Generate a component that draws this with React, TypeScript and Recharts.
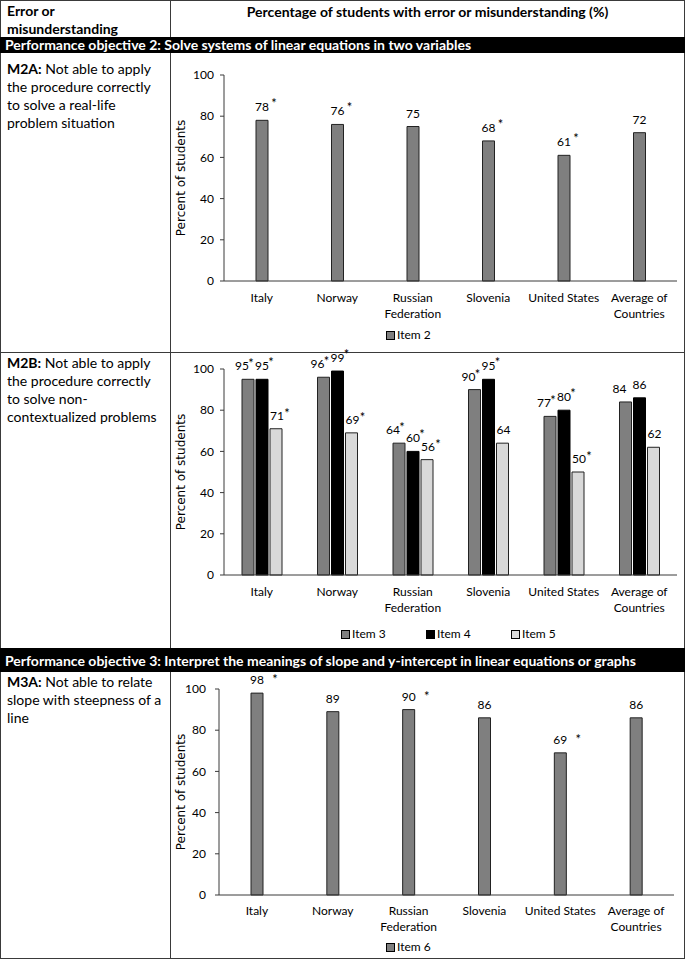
import React from 'react';
import { BarChart, Bar, XAxis, YAxis, LabelList } from 'recharts';

// countries on the x axis ('\n' = line break in tick label)
const countries = ['Italy', 'Norway', 'Russian\nFederation', 'Slovenia', 'United States', 'Average of\nCountries'];
const yTicks = [0, 20, 40, 60, 80, 100];

// M2A
const item2 = [78, 76, 75, 68, 61, 72];
const item2Star = [true, true, false, true, true, false];

// M2B
const item3 = [95, 96, 64, 90, 77, 84];
const item3Star = [true, true, true, true, true, false];
const item4 = [95, 99, 60, 95, 80, 86];
const item4Star = [true, true, true, true, true, false];
const item5 = [71, 69, 56, 64, 50, 62];
const item5Star = [true, true, true, false, true, false];

// M3A
const item6 = [98, 89, 90, 86, 69, 86];
const item6Star = [true, false, true, false, true, false];

const lbl = (v: number, s: boolean) => String(v) + (s ? '*' : '');

const dataA = countries.map((c, i) => ({ country: c, item2: item2[i], item2L: lbl(item2[i], item2Star[i]) }));
const dataB = countries.map((c, i) => ({
  country: c,
  item3: item3[i], item3L: lbl(item3[i], item3Star[i]),
  item4: item4[i], item4L: lbl(item4[i], item4Star[i]),
  item5: item5[i], item5L: lbl(item5[i], item5Star[i]),
}));
const dataC = countries.map((c, i) => ({ country: c, item6: item6[i], item6L: lbl(item6[i], item6Star[i]) }));

const FONT = 'Lato, "Open Sans", sans-serif';
const GRAY = '#7f7f7f';
const LIGHT = '#d9d9d9';
const LINE = '#3a3a3a';

const ValueLabel = (props: any) => {
  const vb = props.viewBox || {};
  const x = props.x ?? vb.x;
  const y = props.y ?? vb.y;
  const width = props.width ?? vb.width;
  const s = String(props.value);
  const star = s.endsWith('*');
  const num = star ? s.slice(0, -1) : s;
  const cx = x + width / 2 + (props.shiftX || 0);
  const by = y - 9;
  return (
    <g>
      <text x={cx} y={by} textAnchor="middle" fontSize={12} fontFamily={FONT} fill="#000">{num}</text>
      {star && (
        <text x={cx + (props.starX || 10)} y={by + (props.starY || 0)} textAnchor="middle" fontSize={13} fontFamily={FONT} fill="#000">*</text>
      )}
    </g>
  );
};

const CatTick = (props: any) => {
  const { x, y, payload } = props;
  const lines = String(payload.value).split('\n');
  return (
    <g>
      {lines.map((l, i) => (
        <text key={i} x={x} y={y + (props.top || 22) + i * 16} textAnchor="middle" fontSize={12} fontFamily={FONT} fill="#000">{l}</text>
      ))}
    </g>
  );
};

const YTitle = (props: any) => {
  const vb = props.viewBox || {};
  const cy = vb.y + vb.height / 2;
  const cx = 10;
  return (
    <text x={cx} y={cy} transform={`rotate(-90, ${cx}, ${cy})`} textAnchor="middle" dominantBaseline="central"
      fontSize={12} fontFamily='"DejaVu Sans", Verdana, sans-serif' fill="#000">Percent of students</text>
  );
};

const LegendItem = ({ left, top, color, text }: any) => (
  <div style={{ position: 'absolute', left, top, display: 'flex', alignItems: 'center', fontSize: 12, fontFamily: FONT, lineHeight: '14px' }}>
    <span style={{ display: 'inline-block', width: 7, height: 7, background: color, border: '1px solid #000', marginRight: 2 }} />
    {text}
  </div>
);

const axisProps = {
  stroke: LINE,
  tickLine: false,
  tickSize: 0,
  interval: 0 as const,
};

const box = (extra: React.CSSProperties): React.CSSProperties => ({ position: 'absolute', background: LINE, ...extra });

const cellText: React.CSSProperties = { position: 'absolute', left: 7, fontSize: 14, lineHeight: '18px', whiteSpace: 'nowrap' };

export default function App() {
  const yAxis = (w: number, m: number) => (
    <YAxis
      domain={[0, 100]}
      ticks={yTicks}
      width={w}
      stroke={LINE}
      tickSize={4}
      tickMargin={m}
      tick={{ fontSize: 12, fontFamily: FONT, fill: '#000' }}
      label={<YTitle />}
    />
  );
  const xAxis = (
    <XAxis dataKey="country" {...axisProps} tick={<CatTick top={19} />} />
  );

  return (
    <div style={{ position: 'absolute', left: 0, top: 0, width: 685, height: 960, background: '#fff', fontFamily: FONT, color: '#000' }}>
      {/* table lines */}
      <div style={box({ left: 0, top: 0, width: 685, height: 1 })} />
      <div style={box({ left: 0, top: 0, width: 1, height: 959 })} />
      <div style={box({ left: 684, top: 0, width: 1, height: 959 })} />
      <div style={box({ left: 0, top: 958, width: 685, height: 1 })} />
      <div style={box({ left: 170, top: 0, width: 1, height: 37 })} />
      <div style={box({ left: 170, top: 53, width: 1, height: 595 })} />
      <div style={box({ left: 170, top: 672, width: 1, height: 286 })} />
      <div style={box({ left: 0, top: 352, width: 685, height: 1 })} />

      {/* header */}
      <div style={{ ...cellText, top: 2, fontWeight: 700 }}>Error or<br />misunderstanding</div>
      <div style={{ position: 'absolute', left: 171, top: 2, width: 513, textAlign: 'center', fontWeight: 700, fontSize: 14, lineHeight: '19px' }}>
        Percentage of students with error or misunderstanding (%)
      </div>

      {/* objective bands */}
      <div style={{ position: 'absolute', left: 0, top: 37, width: 685, height: 16, background: '#000', color: '#fff', fontWeight: 700, fontSize: 14, lineHeight: '16px', paddingLeft: 5, boxSizing: 'border-box', whiteSpace: 'nowrap' }}>
        Performance objective 2: Solve systems of linear equations in two variables
      </div>
      <div style={{ position: 'absolute', left: 0, top: 648, width: 685, height: 24, background: '#000', color: '#fff', fontWeight: 700, fontSize: 14, lineHeight: '25px', paddingLeft: 5, boxSizing: 'border-box', whiteSpace: 'nowrap' }}>
        Performance objective 3: Interpret the meanings of slope and y-intercept in linear equations or graphs
      </div>

      {/* row descriptions */}
      <div style={{ ...cellText, top: 60 }}>
        <b>M2A:</b> Not able to apply<br />the procedure correctly<br />to solve a real-life<br />problem situation
      </div>
      <div style={{ ...cellText, top: 354 }}>
        <b>M2B:</b> Not able to apply<br />the procedure correctly<br />to solve non-<br />contextualized problems
      </div>
      <div style={{ ...cellText, top: 673 }}>
        <b>M3A:</b> Not able to relate<br />slope with steepness of a<br />line
      </div>

      {/* M2A chart */}
      <div style={{ position: 'absolute', left: 171, top: 53 }}>
        <BarChart width={513} height={299} data={dataA} margin={{ top: 22, right: 7, bottom: 41, left: 0 }} barSize={12}>
          {xAxis}
          {yAxis(53, 6)}
          <Bar dataKey="item2" fill={GRAY} stroke="#222" strokeWidth={1} isAnimationActive={false}>
            <LabelList dataKey="item2L" content={<ValueLabel starX={12} starY={-3} />} />
          </Bar>
        </BarChart>
      </div>
      <LegendItem left={386} top={328} color={GRAY} text="Item 2" />

      {/* M2B chart */}
      <div style={{ position: 'absolute', left: 171, top: 343 }}>
        <BarChart width={513} height={305} data={dataB} margin={{ top: 26, right: 7, bottom: 43, left: 0 }} barSize={12} barGap={2}>
          {xAxis}
          {yAxis(53, 6)}
          <Bar dataKey="item3" fill={GRAY} stroke="#222" strokeWidth={1} isAnimationActive={false}>
            <LabelList dataKey="item3L" content={<ValueLabel shiftX={-6} starX={9} starY={-2} />} />
          </Bar>
          <Bar dataKey="item4" fill="#000" stroke="#000" strokeWidth={1} isAnimationActive={false}>
            <LabelList dataKey="item4L" content={<ValueLabel starX={9} starY={-3} />} />
          </Bar>
          <Bar dataKey="item5" fill={LIGHT} stroke="#222" strokeWidth={1} isAnimationActive={false}>
            <LabelList dataKey="item5L" content={<ValueLabel shiftX={1} starX={10} starY={-2} />} />
          </Bar>
        </BarChart>
      </div>
      <LegendItem left={341} top={627} color={GRAY} text="Item 3" />
      <LegendItem left={426} top={627} color="#000" text="Item 4" />
      <LegendItem left={511} top={627} color={LIGHT} text="Item 5" />

      {/* M3A chart */}
      <div style={{ position: 'absolute', left: 171, top: 663 }}>
        <BarChart width={513} height={295} data={dataC} margin={{ top: 26, right: 10, bottom: 33, left: 0 }} barSize={12}>
          <XAxis dataKey="country" {...axisProps} tick={<CatTick top={18} />} />
          {yAxis(48, 9)}
          <Bar dataKey="item6" fill={GRAY} stroke="#222" strokeWidth={1} isAnimationActive={false}>
            <LabelList dataKey="item6L" content={<ValueLabel starX={18} starY={0} />} />
          </Bar>
        </BarChart>
      </div>
      <LegendItem left={386} top={940} color={GRAY} text="Item 6" />
    </div>
  );
}
